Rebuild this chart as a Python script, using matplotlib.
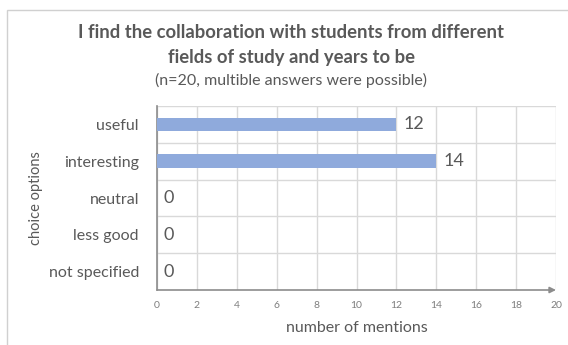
import matplotlib.pyplot as plt
from matplotlib.patches import Rectangle

plt.rcParams['font.family'] = ['Lato', 'DejaVu Sans']

categories = ["useful", "interesting", "neutral", "less good", "not specified"]
mentions = [12, 14, 0, 0, 0]
x_ticks = [0, 2, 4, 6, 8, 10, 12, 14, 16, 18, 20]

title_lines = ["I find the collaboration with students from different",
               "fields of study and years to be"]
subtitle = "(n=20, multible answers were possible)"

text_col = "#595959"
bar_col = "#8faadc"
grid_col = "#d9d9d9"
axis_col = "#8c8c8c"

fig = plt.figure(figsize=(5.68, 3.45), dpi=100)
fig.patch.set_facecolor("white")

# chart frame
fig.patches.append(Rectangle((7 / 568, -0.1), 1.2, 1 - 10 / 345 + 0.1,
                             transform=fig.transFigure, fill=False,
                             edgecolor="#d0d0d0", lw=1.0))

ax = fig.add_axes([157 / 568, 1 - 290 / 345, 399 / 568, 184 / 345])

ypos = list(range(len(categories)))
ax.barh(ypos, mentions, height=0.37, color=bar_col, zorder=3)
ax.set_ylim(len(categories) - 0.5, -0.5)
ax.set_xlim(0, 20)

for y, v in zip(ypos, mentions):
    ax.annotate(str(v), (v, y), xytext=(5, 0), textcoords="offset points",
                va="center", ha="left", fontsize=13, color=text_col)

# grid: vertical at ticks, horizontal between categories
ax.set_xticks(x_ticks)
ax.set_xticklabels([str(t) for t in x_ticks], fontsize=7.5, color="#7f7f7f")
ax.set_yticks(ypos)
ax.set_yticklabels(categories, fontsize=11.5, color=text_col)
ax.set_yticks([y + 0.5 for y in ypos[:-1]] + [-0.5], minor=True)
ax.grid(True, axis="x", color=grid_col, lw=1, zorder=0)
ax.grid(True, axis="y", which="minor", color=grid_col, lw=1, zorder=0)
ax.tick_params(axis="both", which="both", length=0)
ax.tick_params(axis="x", pad=8)
ax.tick_params(axis="y", pad=13)

for s in ["top", "right", "bottom"]:
    ax.spines[s].set_visible(False)
ax.spines["left"].set_color(axis_col)
ax.spines["left"].set_linewidth(1.2)

# x axis with arrow head
ax.annotate("", xy=(1.0, 0), xytext=(0, 0), xycoords="axes fraction",
            arrowprops=dict(arrowstyle="-|>", color=axis_col, lw=1.2,
                            mutation_scale=9, shrinkA=0, shrinkB=0),
            zorder=5, annotation_clip=False)

ax.set_xlabel("number of mentions", fontsize=11.5, color=text_col, labelpad=8)
ax.set_ylabel("choice options", fontsize=10.5, color=text_col, labelpad=4)

cx = 291 / 568
fig.text(cx, 1 - 33 / 345, title_lines[0], ha="center", va="center",
         fontsize=13.3, fontweight="bold", color=text_col)
fig.text(cx, 1 - 57 / 345, title_lines[1], ha="center", va="center",
         fontsize=13.3, fontweight="bold", color=text_col)
fig.text(cx, 1 - 80 / 345, subtitle, ha="center", va="center",
         fontsize=11.5, color=text_col)

fig.savefig("out.png", dpi=100, facecolor="white")
